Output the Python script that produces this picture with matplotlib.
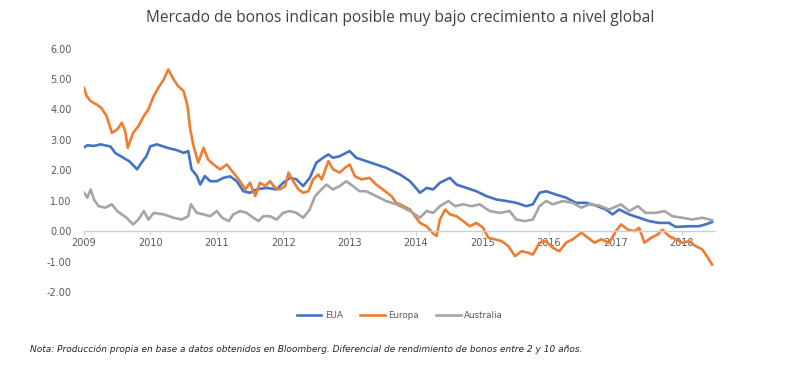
import numpy as np
import matplotlib.pyplot as plt

# Data (decimal years, spread in percentage points)
eua_t = [2009.0, 2009.05, 2009.15, 2009.25, 2009.4, 2009.47, 2009.6, 2009.68, 2009.8, 2009.85,
         2009.9, 2009.94, 2010.0, 2010.1, 2010.25, 2010.4, 2010.5, 2010.57, 2010.62, 2010.7,
         2010.75, 2010.82, 2010.9, 2011.0, 2011.1, 2011.2, 2011.3, 2011.4, 2011.5, 2011.6,
         2011.75, 2011.9, 2012.0, 2012.1, 2012.2, 2012.3, 2012.4, 2012.5, 2012.6, 2012.68,
         2012.75, 2012.85, 2013.0, 2013.1, 2013.25, 2013.4, 2013.55, 2013.7, 2013.76, 2013.91,
         2014.06, 2014.16, 2014.26, 2014.36, 2014.51, 2014.61, 2014.76, 2014.91, 2015.06, 2015.21,
         2015.36, 2015.51, 2015.66, 2015.76, 2015.86, 2015.96, 2016.11, 2016.26, 2016.41, 2016.56,
         2016.71, 2016.86, 2016.96, 2017.06, 2017.21, 2017.36, 2017.51, 2017.66, 2017.81, 2017.91,
         2018.11, 2018.26, 2018.36, 2018.46]
eua = [2.75, 2.82, 2.8, 2.85, 2.78, 2.57, 2.4, 2.3, 2.03, 2.2,
       2.35, 2.46, 2.79, 2.85, 2.74, 2.66, 2.57, 2.63, 2.03, 1.81,
       1.53, 1.81, 1.64, 1.64, 1.75, 1.8, 1.64, 1.31, 1.26, 1.37,
       1.42, 1.37, 1.59, 1.75, 1.7, 1.48, 1.75, 2.25, 2.41, 2.52,
       2.41, 2.46, 2.63, 2.41, 2.3, 2.19, 2.08, 1.92, 1.86, 1.64,
       1.26, 1.42, 1.37, 1.59, 1.75, 1.53, 1.42, 1.31, 1.15, 1.04,
       0.99, 0.93, 0.82, 0.88, 1.26, 1.31, 1.2, 1.1, 0.93, 0.93,
       0.84, 0.71, 0.55, 0.71, 0.55, 0.44, 0.33, 0.27, 0.27, 0.14,
       0.16, 0.16, 0.22, 0.3]

europa_t = [2009.0, 2009.04, 2009.1, 2009.19, 2009.26, 2009.34, 2009.42, 2009.5, 2009.57, 2009.62,
            2009.66, 2009.74, 2009.82, 2009.9, 2009.97, 2010.05, 2010.12, 2010.2, 2010.27, 2010.35,
            2010.42, 2010.5, 2010.56, 2010.6, 2010.65, 2010.72, 2010.8, 2010.87, 2010.95, 2011.05,
            2011.15, 2011.25, 2011.33, 2011.43, 2011.5, 2011.58, 2011.65, 2011.73, 2011.8, 2011.88,
            2011.95, 2012.03, 2012.08, 2012.15, 2012.23, 2012.3, 2012.38, 2012.45, 2012.53, 2012.58,
            2012.68, 2012.75, 2012.85, 2012.93, 2013.0, 2013.08, 2013.18, 2013.3, 2013.4, 2013.5,
            2013.63, 2013.7, 2013.76, 2013.91, 2014.06, 2014.16, 2014.26, 2014.31, 2014.36, 2014.44,
            2014.51, 2014.61, 2014.71, 2014.81, 2014.91, 2015.01, 2015.09, 2015.19, 2015.29, 2015.39,
            2015.49, 2015.59, 2015.69, 2015.76, 2015.86, 2015.96, 2016.06, 2016.16, 2016.26, 2016.36,
            2016.49, 2016.59, 2016.69, 2016.79, 2016.91, 2017.01, 2017.09, 2017.19, 2017.29, 2017.36,
            2017.44, 2017.54, 2017.64, 2017.71, 2017.81, 2017.91, 2018.01, 2018.11, 2018.21, 2018.31,
            2018.38, 2018.46]
europa = [4.71, 4.44, 4.27, 4.16, 4.05, 3.78, 3.23, 3.34, 3.56, 3.29,
          2.74, 3.23, 3.45, 3.78, 4.0, 4.44, 4.71, 4.98, 5.31, 4.98,
          4.76, 4.6, 4.1, 3.34, 2.79, 2.25, 2.74, 2.35, 2.19, 2.03,
          2.19, 1.92, 1.7, 1.37, 1.59, 1.15, 1.59, 1.48, 1.64, 1.42,
          1.37, 1.48, 1.92, 1.64, 1.37, 1.26, 1.31, 1.7, 1.86, 1.7,
          2.3, 2.03, 1.92, 2.08, 2.19, 1.8, 1.7, 1.75, 1.53, 1.37,
          1.15, 0.93, 0.88, 0.71, 0.27, 0.16, -0.08, -0.16, 0.38, 0.71,
          0.55, 0.49, 0.33, 0.16, 0.27, 0.11, -0.22, -0.27, -0.33, -0.49,
          -0.82, -0.66, -0.71, -0.77, -0.38, -0.33, -0.55, -0.66, -0.38, -0.27,
          -0.05, -0.22, -0.38, -0.27, -0.38, 0.0, 0.22, 0.05, 0.0, 0.11,
          -0.38, -0.22, -0.11, 0.05, -0.16, -0.27, -0.38, -0.33, -0.49, -0.6,
          -0.82, -1.1]

australia_t = [2009.0, 2009.05, 2009.1, 2009.15, 2009.22, 2009.32, 2009.42, 2009.5, 2009.57, 2009.64,
               2009.74, 2009.82, 2009.9, 2009.97, 2010.05, 2010.2, 2010.35, 2010.47, 2010.57, 2010.61,
               2010.7, 2010.8, 2010.9, 2011.0, 2011.08, 2011.18, 2011.25, 2011.35, 2011.45, 2011.55,
               2011.63, 2011.7, 2011.8, 2011.9, 2012.0, 2012.1, 2012.2, 2012.3, 2012.4, 2012.48,
               2012.55, 2012.65, 2012.75, 2012.85, 2012.95, 2013.05, 2013.15, 2013.25, 2013.4, 2013.55,
               2013.7, 2013.76, 2013.91, 2014.06, 2014.16, 2014.26, 2014.36, 2014.49, 2014.59, 2014.71,
               2014.84, 2014.96, 2015.11, 2015.26, 2015.41, 2015.51, 2015.64, 2015.76, 2015.86, 2015.96,
               2016.06, 2016.21, 2016.36, 2016.49, 2016.61, 2016.76, 2016.91, 2017.09, 2017.21, 2017.34,
               2017.46, 2017.61, 2017.74, 2017.86, 2018.01, 2018.16, 2018.31, 2018.46]
australia = [1.26, 1.1, 1.37, 1.04, 0.82, 0.77, 0.88, 0.66, 0.55, 0.44,
             0.22, 0.38, 0.66, 0.38, 0.6, 0.55, 0.44, 0.38, 0.49, 0.88,
             0.6, 0.55, 0.49, 0.66, 0.44, 0.33, 0.55, 0.66, 0.6, 0.44,
             0.33, 0.49, 0.49, 0.38, 0.6, 0.66, 0.6, 0.44, 0.71, 1.15,
             1.31, 1.53, 1.37, 1.48, 1.64, 1.48, 1.31, 1.31, 1.15, 0.99,
             0.88, 0.82, 0.66, 0.44, 0.66, 0.6, 0.82, 0.99, 0.82, 0.88,
             0.82, 0.88, 0.66, 0.6, 0.66, 0.38, 0.33, 0.38, 0.82, 0.99,
             0.88, 0.99, 0.93, 0.77, 0.88, 0.84, 0.71, 0.88, 0.66, 0.82,
             0.6, 0.6, 0.66, 0.49, 0.44, 0.38, 0.44, 0.36]

years = list(range(2009, 2019))
yticks = [-2, -1, 0, 1, 2, 3, 4, 5, 6]

fig = plt.figure(figsize=(8, 3.68), dpi=100)
ax = fig.add_axes([0.105, 0.2065, 0.7885, 0.6617])

ax.plot(eua_t, eua, color="#4472C4", lw=1.9, label="EUA")
ax.plot(europa_t, europa, color="#ED7D31", lw=1.9, label="Europa")
ax.plot(australia_t, australia, color="#A5A5A5", lw=1.9, label="Australia")

ax.set_xlim(2009, 2018.5)
ax.set_ylim(-2, 6)
ax.set_yticks(yticks)
ax.set_yticklabels([f"{v:.2f}" for v in yticks])
ax.set_xticks(years)
ax.set_xticklabels([str(y) for y in years])

for s in ["top", "right", "left"]:
    ax.spines[s].set_visible(False)
ax.spines["bottom"].set_position(("data", 0))
ax.spines["bottom"].set_color("#c5cfdd")
ax.spines["bottom"].set_linewidth(1.0)
ax.tick_params(axis="y", length=0, pad=9, labelsize=7, labelcolor="#595959")
ax.tick_params(axis="x", length=3, color="#c5cfdd", pad=2, labelsize=7, labelcolor="#595959")

fig.text(0.5, 1 - 18 / 368, "Mercado de bonos indican posible muy bajo crecimiento a nivel global",
         ha="center", va="center", fontsize=11.2, color="#404040", family="Open Sans")

fig.legend(loc="center", bbox_to_anchor=(0.5, 1 - 316 / 368), ncol=3, frameon=False,
           fontsize=6.3, labelcolor="#595959", handlelength=2.8, columnspacing=2.0,
           handletextpad=0.4)

fig.text(30 / 800, 1 - 349 / 368,
         "Nota: Producción propia en base a datos obtenidos en Bloomberg. Diferencial de rendimiento de bonos entre 2 y 10 años.",
         ha="left", va="center", fontsize=6.5, style="italic", color="#262626")

fig.savefig("out.png", dpi=100)
